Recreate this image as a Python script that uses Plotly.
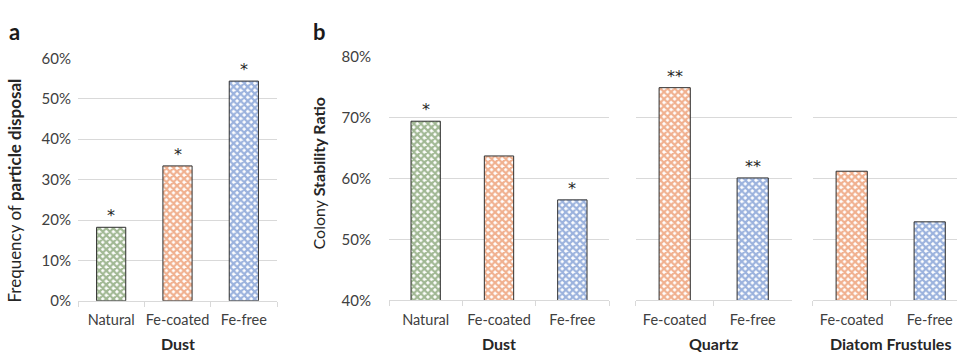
import plotly.graph_objects as go

W, H = 957, 362

# ---- data ----
a_categories = ["Natural", "Fe-coated", "Fe-free"]
a_values = [0.182, 0.334, 0.544]
a_marks = ["*", "*", "*"]

dust_categories = ["Natural", "Fe-coated", "Fe-free"]
dust_values = [0.694, 0.637, 0.565]
dust_marks = ["*", "", "*"]

quartz_categories = ["Fe-coated", "Fe-free"]
quartz_values = [0.749, 0.601]
quartz_marks = ["**", "**"]

diatom_categories = ["Fe-coated", "Fe-free"]
diatom_values = [0.612, 0.529]
diatom_marks = ["", ""]

a_ticks = [0, 0.1, 0.2, 0.3, 0.4, 0.5, 0.6]
b_ticks = [0.4, 0.5, 0.6, 0.7, 0.8]

COLORS = {"Natural": "#44722A", "Fe-coated": "#E2621F", "Fe-free": "#3866BC"}
FONT = "Lato, 'Open Sans', sans-serif"
TXT = "#404040"
GRID = "#D9D9D9"


def px(x):
    return x / W


def py(y):
    return 1 - y / H


fig = go.Figure()


def add_bars(cats, vals, marks, xa, ya, width):
    fig.add_trace(go.Bar(
        x=cats, y=vals, xaxis=xa, yaxis=ya, width=width,
        marker=dict(
            color="white",
            line=dict(color="#303030", width=1),
            pattern=dict(shape="x", fgcolor=[COLORS[c] for c in cats],
                         bgcolor="white", size=5, solidity=0.7,
                         fillmode="overlay"),
        ),
        showlegend=False, hoverinfo="skip",
    ))
    for c, v, m in zip(cats, vals, marks):
        if m:
            fig.add_annotation(x=c, y=v, xref=xa, yref=ya,
                               text=m, showarrow=False, yanchor="bottom", yshift=0,
                               font=dict(family="DejaVu Sans", size=16, color="#262626"))


add_bars(a_categories, a_values, a_marks, "x", "y", 0.44)
add_bars(dust_categories, dust_values, dust_marks, "x2", "y2", 0.4)
add_bars(quartz_categories, quartz_values, quartz_marks, "x3", "y3", 0.4)
add_bars(diatom_categories, diatom_values, diatom_marks, "x4", "y4", 0.4)

xcommon = dict(type="category", showgrid=False, showline=True, linecolor=GRID, linewidth=1,
               ticks="outside", tickson="boundaries", ticklen=5, tickcolor=GRID,
               tickangle=0,
               tickfont=dict(family=FONT, size=14.5, color=TXT), ticklabelstandoff=6,
               zeroline=False, fixedrange=True)
ycommon = dict(showgrid=True, gridcolor=GRID, gridwidth=1, zeroline=False, showline=False,
               tickformat=".0%", tickfont=dict(family=FONT, size=15, color=TXT), fixedrange=True)

ya_dom = [py(306), py(51)]
yb_dom = [py(305.7), py(49)]

fig.update_layout(
    width=W, height=H, margin=dict(l=0, r=0, t=0, b=0),
    paper_bgcolor="white", plot_bgcolor="white",
    xaxis=dict(domain=[px(78), px(277)], anchor="y", range=[-0.5, 2.5], **xcommon),
    yaxis=dict(domain=ya_dom, anchor="x", range=[0, 0.6], tickvals=a_ticks,
               ticklabelstandoff=6, **ycommon),
    xaxis2=dict(domain=[px(389), px(609)], anchor="y2", range=[-0.5, 2.5], **xcommon),
    yaxis2=dict(domain=yb_dom, anchor="x2", range=[0.4, 0.8], tickvals=b_ticks,
                ticklabelstandoff=17, **ycommon),
    xaxis3=dict(domain=[px(635.7), px(791.7)], anchor="y3", range=[-0.5, 1.5], **xcommon),
    yaxis3=dict(domain=yb_dom, anchor="x3", range=[0.4, 0.8], tickvals=b_ticks,
                showticklabels=False, **ycommon),
    xaxis4=dict(domain=[px(812.7), 1.0], anchor="y4",
                range=[-0.5, -0.5 + (957 - 812.7) / 78.0], **xcommon),
    yaxis4=dict(domain=yb_dom, anchor="x4", range=[0.4, 0.8], tickvals=b_ticks,
                showticklabels=False, **ycommon),
)

# group (axis) titles
for text, xc in [("Dust", 177.5), ("Dust", 499), ("Quartz", 713.7), ("Diatom Frustules", 890.7)]:
    fig.add_annotation(xref="paper", yref="paper", x=px(xc), y=py(351), text=f"<b>{text}</b>",
                       showarrow=False, xanchor="center", yanchor="middle",
                       font=dict(family=FONT, size=16, color="#262626"))

# y-axis titles
fig.add_annotation(xref="paper", yref="paper", x=px(15), y=py(190), textangle=-90,
                   text="Frequency of <b>particle disposal</b>", showarrow=False,
                   xanchor="center", yanchor="middle",
                   font=dict(family=FONT, size=17, color="#262626"))
fig.add_annotation(xref="paper", yref="paper", x=px(318), y=py(172), textangle=-90,
                   text="Colony <b>Stability Ratio</b>", showarrow=False,
                   xanchor="center", yanchor="middle",
                   font=dict(family=FONT, size=16, color="#262626"))

# panel letters
fig.add_annotation(xref="paper", yref="paper", x=px(15), y=py(23), text="<b>a</b>",
                   showarrow=False, xanchor="center", yanchor="middle",
                   font=dict(family=FONT, size=22, color="#1a1a1a"))
fig.add_annotation(xref="paper", yref="paper", x=px(319), y=py(23), text="<b>b</b>",
                   showarrow=False, xanchor="center", yanchor="middle",
                   font=dict(family=FONT, size=22, color="#1a1a1a"))

fig.write_html("out.html")
